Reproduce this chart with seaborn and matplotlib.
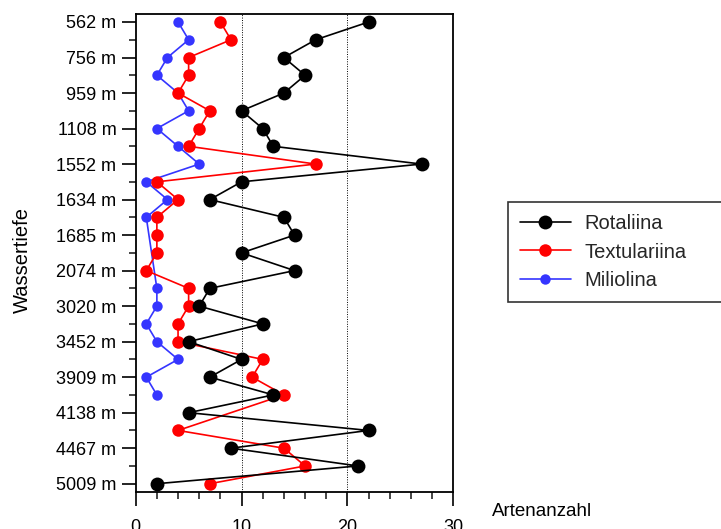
import numpy as np
import pandas as pd
import matplotlib
matplotlib.use("Agg")
import matplotlib.pyplot as plt
import seaborn as sns
from matplotlib.lines import Line2D
from matplotlib.ticker import MultipleLocator

sns.set_theme(style="ticks")
plt.rcParams['font.family'] = ['Liberation Sans', 'DejaVu Sans']

# Depth tick labels (every other sample row is labelled)
depth_labels = ["562 m", "756 m", "959 m", "1108 m", "1552 m", "1634 m", "1685 m",
                "2074 m", "3020 m", "3452 m", "3909 m", "4138 m", "4467 m", "5009 m"]
n_rows = 27
rows = list(range(n_rows))

nan = np.nan
rotaliina = [22, 17, 14, 16, 14, 10, 12, 13, 27, 10, 7, 14, 15, 10, 15, 7, 6, 12, 5, 10, 7, 13, 5, 22, 9, 21, 2]
textulariina = [8, 9, 5, 5, 4, 7, 6, 5, 17, 2, 4, 2, 2, 2, 1, 5, 5, 4, 4, 12, 11, 14, nan, 4, 14, 16, 7]
miliolina = [4, 5, 3, 2, 4, 5, 2, 4, 6, 1, 3, 1, nan, nan, nan, 2, 2, 1, 2, 4, 1, 2, nan, nan, nan, nan, nan]

series_names = ["Rotaliina", "Textulariina", "Miliolina"]
series_values = [rotaliina, textulariina, miliolina]
colors = {"Rotaliina": "#000000", "Textulariina": "#ff0000", "Miliolina": "#3535ff"}
msizes = {"Rotaliina": 10, "Textulariina": 9, "Miliolina": 7.5}
zorders = {"Rotaliina": 5, "Textulariina": 4, "Miliolina": 3}

df = pd.concat([pd.DataFrame({"row": rows, "count": v, "group": n})
                for n, v in zip(series_names, series_values)], ignore_index=True)

fig = plt.figure(figsize=(7.21, 5.29), dpi=100)
ax = fig.add_axes([135.7 / 721, 1 - 491.7 / 529, (453.3 - 135.7) / 721, (491.7 - 14) / 529])

for name in series_names[::-1]:
    sub = df[df["group"] == name].dropna()
    sns.lineplot(data=sub, x="count", y="row", sort=False, estimator=None,
                 color=colors[name], marker="o", markersize=msizes[name],
                 markeredgewidth=0, linewidth=1.2, ax=ax, zorder=zorders[name],
                 legend=False)

ax.set_xlim(0, 30)
ax.set_ylim(26.45, -0.45)
ax.xaxis.set_major_locator(MultipleLocator(10))
ax.xaxis.set_minor_locator(MultipleLocator(2))
ax.set_yticks(rows[::2])
ax.set_yticklabels(depth_labels)
ax.set_yticks(rows[1::2], minor=True)

for x in (10, 20):
    ax.axvline(x, color="black", linestyle=(0, (1, 1.5)), linewidth=0.7, zorder=1)

for s in ax.spines.values():
    s.set_color("black")
    s.set_linewidth(1.3)

ax.tick_params(axis="y", which="major", length=10, width=1.2, direction="out",
               labelsize=13, colors="black", pad=4)
ax.tick_params(axis="y", which="minor", length=5, width=1.2, direction="out")
ax.tick_params(axis="x", which="major", length=10, width=1.2, direction="out",
               labelsize=13, colors="black", pad=10)
ax.tick_params(axis="x", which="minor", length=5, width=1.2, direction="out")

ax.set_xlabel("")
ax.set_ylabel("")
fig.text(22 / 721, 1 - 260 / 529, "Wassertiefe", rotation=90, ha="center", va="center",
         fontsize=14.5, color="black")
fig.text(492 / 721, 1 - 516 / 529, "Artenanzahl", ha="left", va="baseline",
         fontsize=13.5, color="black")

handles = [Line2D([0], [0], color=colors[n], marker="o", markersize=msizes[n],
                  markeredgewidth=0, linewidth=1.2) for n in series_names]
leg = fig.legend(handles, series_names, loc="upper left",
                 bbox_to_anchor=(507.7 / 721, 1 - 202 / 529, 0.33, 0), mode="expand",
                 fontsize=14.5, frameon=True, fancybox=False, edgecolor="black",
                 handlelength=2.5, handletextpad=0.7, labelspacing=0.45,
                 borderpad=0.62, borderaxespad=0)
leg.get_frame().set_linewidth(1.2)

fig.savefig("out.png", dpi=100)
